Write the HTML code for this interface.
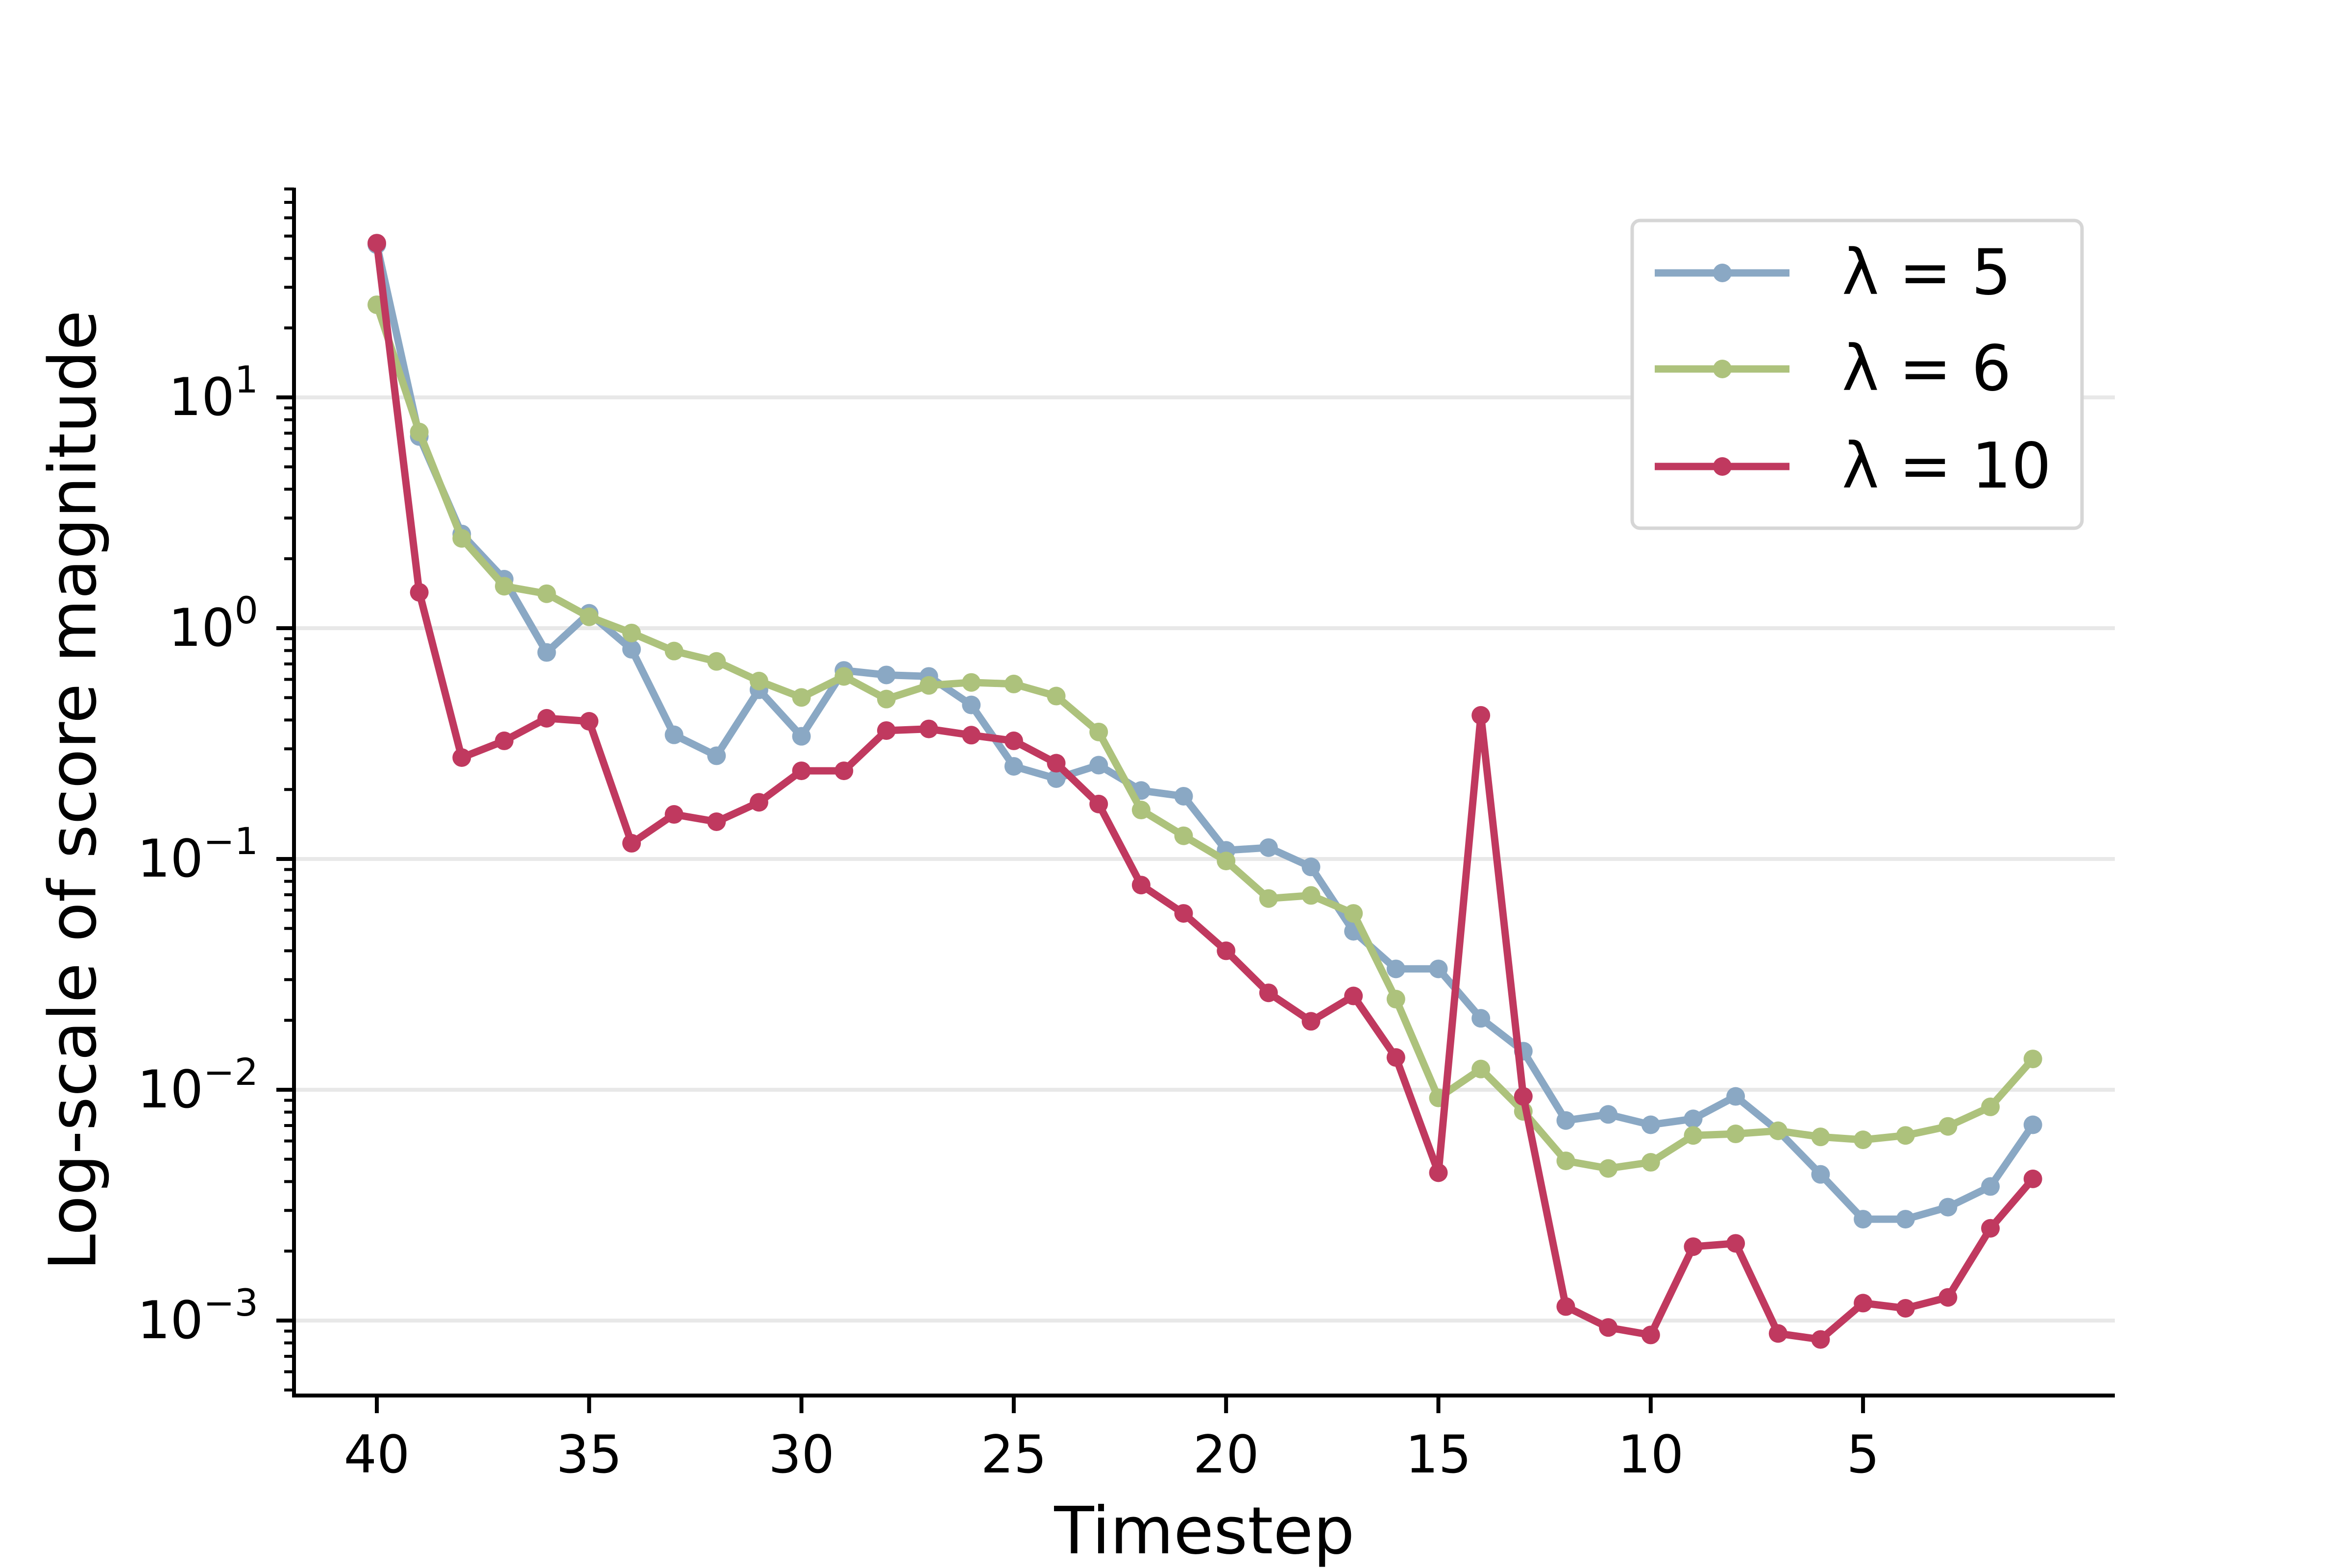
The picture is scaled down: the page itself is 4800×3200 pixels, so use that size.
<!DOCTYPE html>
<html><head><meta charset="utf-8"><style>
html,body{margin:0;padding:0;background:#fff}
svg{display:block}
text{font-family:"DejaVu Sans","Liberation Sans",sans-serif}
</style></head><body>
<svg id="chart" width="4800" height="3200" viewBox="0 0 4800 3200" xmlns="http://www.w3.org/2000/svg">
<g id="grid"></g>
<g id="axes"></g>
<g id="series"></g>
<text x="2458" y="3170" font-size="133" text-anchor="middle">Timestep</text>
<text x="158" y="1613" font-size="133" text-anchor="middle" transform="rotate(-90 158 1613)" dominant-baseline="middle">Log-scale of score magnitude</text>
<g>
<rect x="3331" y="450" width="918" height="628" rx="16" fill="#fff" stroke="#d6d6d6" stroke-width="7"/>
<g><line x1="3377" y1="557" x2="3652" y2="557" stroke="#8aa8c4" stroke-width="15"/><circle cx="3515" cy="557" r="19" fill="#8aa8c4"/><text x="3759" y="600" font-size="128">λ = 5</text></g>
<g><line x1="3377" y1="753" x2="3652" y2="753" stroke="#adc27c" stroke-width="15"/><circle cx="3515" cy="753" r="19" fill="#adc27c"/><text x="3759" y="796" font-size="128">λ = 6</text></g>
<g><line x1="3377" y1="952" x2="3652" y2="952" stroke="#c0395f" stroke-width="15"/><circle cx="3515" cy="952" r="19" fill="#c0395f"/><text x="3759" y="995" font-size="128">λ = 10</text></g>
</g>
</svg>
<script>
const timesteps = [40,39,38,37,36,35,34,33,32,31,30,29,28,27,26,25,24,23,22,21,20,19,18,17,16,15,14,13,12,11,10,9,8,7,6,5,4,3,2,1];
const lambda5 = [45.9,6.77,2.56,1.63,0.785,1.16,0.81,0.345,0.28,0.541,0.34,0.656,0.627,0.618,0.465,0.252,0.223,0.255,0.198,0.187,0.109,0.112,0.0924,0.0486,0.0334,0.0334,0.0204,0.0147,0.00736,0.00782,0.00705,0.00748,0.00936,0.00664,0.0043,0.00275,0.00275,0.0031,0.00381,0.00705];
const lambda6 = [25.2,7.08,2.45,1.52,1.41,1.12,0.953,0.796,0.718,0.59,0.501,0.618,0.493,0.565,0.582,0.573,0.508,0.355,0.163,0.126,0.098,0.0674,0.0695,0.0581,0.0247,0.00922,0.0123,0.00806,0.00492,0.00456,0.00485,0.00634,0.00644,0.00664,0.00625,0.00607,0.00634,0.00694,0.00843,0.0136];
const lambda10 = [46.6,1.43,0.275,0.325,0.407,0.395,0.117,0.156,0.145,0.176,0.241,0.241,0.36,0.366,0.344,0.325,0.26,0.173,0.0771,0.0581,0.04,0.0263,0.0198,0.0255,0.0138,0.00437,0.419,0.00936,0.00115,0.000933,0.000866,0.00209,0.00216,0.000879,0.000828,0.00119,0.00113,0.00126,0.00251,0.00411];
const xTicks = [40,35,30,25,20,15,10,5];
const yDecades = [1,0,-1,-2,-3];

const NS = "http://www.w3.org/2000/svg";
const X0 = 600, X1 = 4316, Y0 = 383, Y1 = 2848;
function xs(t){ return 769 + (40 - t) * 86.66; }
function ys(v){ return 1282 - 471 * Math.log10(v); }
function mk(tag, attrs, parent){ const e = document.createElementNS(NS, tag); for (const k in attrs) e.setAttribute(k, attrs[k]); parent.appendChild(e); return e; }

const grid = document.getElementById('grid');
const axes = document.getElementById('axes');
const series = document.getElementById('series');

yDecades.forEach(d => {
  const y = ys(Math.pow(10, d));
  const gl = mk('line', {x1: X0, x2: X1, y1: y, y2: y, stroke: '#e8e8e8', 'stroke-width': 8}, grid);
  
  
  const tk = mk('line', {x1: X0 - 36, x2: X0, y1: y, y2: y, stroke: '#000', 'stroke-width': 8}, axes);
  
  
  const tx = mk('text', {x: 527, y: y + 36, 'font-size': 106, 'text-anchor': 'end'}, axes);
  
  
  tx.textContent = '10';
  const sp = mk('tspan', {dy: -46, 'font-size': 76}, tx);
  sp.textContent = d < 0 ? '\u2212' + (-d) : String(d);
});
for (let d = -4; d <= 1; d++) {
  for (let m = 2; m <= 9; m++) {
    const v = m * Math.pow(10, d);
    const y = ys(v);
    if (y < Y0 || y > Y1) continue;
    const mt = mk('line', {x1: X0 - 20, x2: X0, y1: y, y2: y, stroke: '#000', 'stroke-width': 6}, axes);
    
    
  }
}
xTicks.forEach(t => {
  const x = xs(t);
  const tk = mk('line', {x1: x, x2: x, y1: Y1, y2: Y1 + 36, stroke: '#000', 'stroke-width': 8}, axes);
  
  
  const tx = mk('text', {x: x, y: 3005, 'font-size': 106, 'text-anchor': 'middle'}, axes);
  
  
  tx.textContent = String(t);
});
const ls = mk('line', {x1: X0, x2: X0, y1: Y0, y2: Y1 + 4, stroke: '#000', 'stroke-width': 8}, axes);


const bs = mk('line', {x1: X0 - 4, x2: X1, y1: Y1, y2: Y1, stroke: '#000', 'stroke-width': 8}, axes);



function drawSeries(vals, color, name) {
  const g = mk('g', {}, series);
  
  
  const pts = vals.map((v, i) => xs(timesteps[i]).toFixed(1) + ',' + ys(v).toFixed(1)).join(' ');
  const pl = mk('polyline', {points: pts, fill: 'none', stroke: color, 'stroke-width': 15, 'stroke-linejoin': 'round'}, g);
  
  
  vals.forEach((v, i) => {
    const c = mk('circle', {cx: xs(timesteps[i]), cy: ys(v), r: 19, fill: color}, g);
    
    
  });
}
drawSeries(lambda5, '#8aa8c4', 'series-lambda-5');
drawSeries(lambda6, '#adc27c', 'series-lambda-6');
drawSeries(lambda10, '#c0395f', 'series-lambda-10');
</script>
</body></html>
